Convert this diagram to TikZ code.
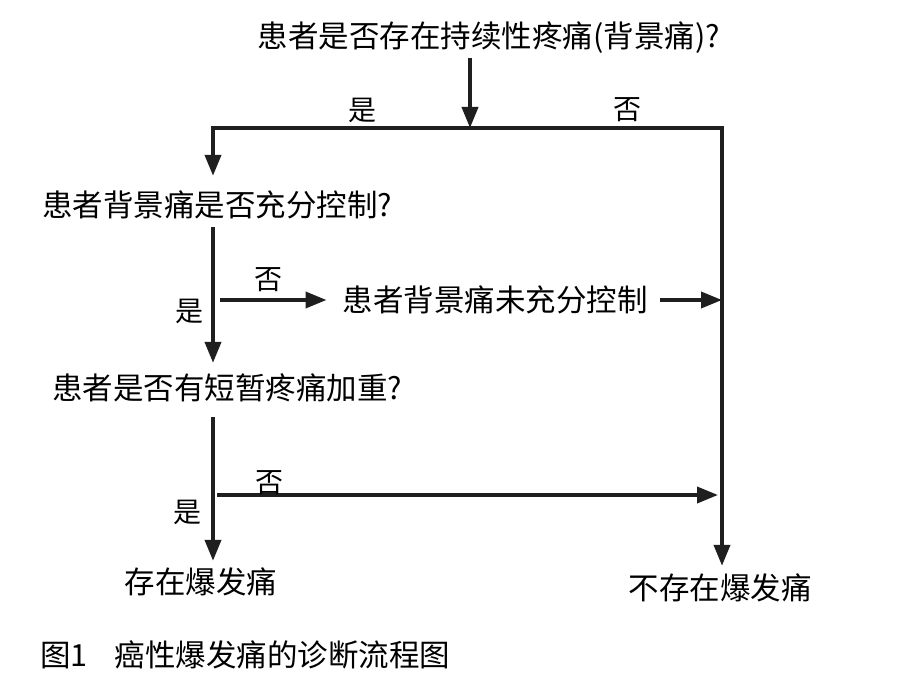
\documentclass[tikz,border=0pt]{standalone}
\usepackage{fontspec}
\setmainfont{Noto Sans CJK SC}
\usetikzlibrary{arrows.meta}
\begin{document}
\begin{tikzpicture}[x=1pt,y=-1pt,
  txt/.style={inner sep=0pt,outer sep=0pt,font=\fontsize{30.5pt}{32pt}\selectfont},
  lab/.style={inner sep=0pt,outer sep=0pt,font=\fontsize{28pt}{30pt}\selectfont},
  ln/.style={line width=3.8pt,draw=black!88},
  arr/.style={ln,-{Triangle[length=21pt,width=16pt]}}]
\useasboundingbox[fill=white] (0,0) rectangle (898,682);
% text nodes
\node[txt] (q1) at (489,38) {患者是否存在持续性疼痛(背景痛)?};
\node[txt] (q2) at (217,205) {患者背景痛是否充分控制?};
\node[txt] (m) at (495,300) {患者背景痛未充分控制};
\node[txt] (q3) at (227,388) {患者是否有短暂疼痛加重?};
\node[txt] (yes) at (201,582) {存在爆发痛};
\node[txt] (no) at (720,588) {不存在爆发痛};
\node[txt,anchor=west] (cap) at (40,655) {图1\hspace{0.9em}癌性爆发痛的诊断流程图};
% junction points
\coordinate (j) at (470,128);
\coordinate (L) at (213,128);
\coordinate (R) at (722,128);
\coordinate (b2) at (213,495);
% connectors
\draw[arr,shorten <=4pt] (q1.south -| j) -- (j);
\draw[arr,shorten >=8pt] (L) -- (R) -- (no.north -| R);
\draw[arr,line cap=rect,shorten >=15pt] (L) -- (q2.north -| L);
\draw[arr,shorten <=8pt,shorten >=11pt] (q2.south -| L) -- (q3.north -| L);
\draw[arr,shorten <=7pt,shorten >=16pt] (L |- m) -- (m.west);
\draw[arr,shorten <=12pt] (m.east) -- (m -| R);
\draw[arr,shorten <=15pt,shorten >=7pt] (q3.south -| L) -- (yes.north -| L);
\draw[arr,shorten <=4pt,shorten >=4pt] (b2) -- (b2 -| R);
% labels
\node[lab] (l1) at (362,110) {是};
\node[lab] (l2) at (627,110) {否};
\node[lab] (l3) at (268,280) {否};
\node[lab] (l4) at (189,311) {是};
\node[lab] (l5) at (269,483) {否};
\node[lab] (l6) at (187,512) {是};
\end{tikzpicture}
\end{document}
